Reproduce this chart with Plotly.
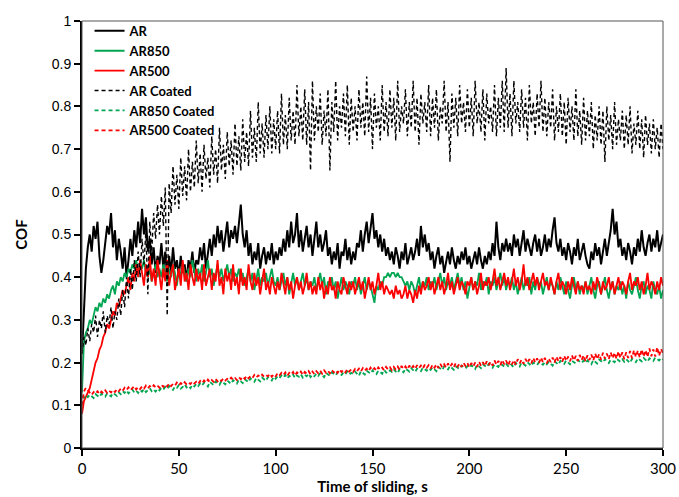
import numpy as np
import plotly.graph_objects as go

# time of sliding, s (one sample per second)
time_s = np.arange(0, 301)

ar = [
    0.22, 0.31, 0.42, 0.47, 0.50, 0.46, 0.52, 0.49, 0.53, 0.45, 0.41, 0.44, 0.48, 0.52, 0.50, 0.55, 0.47, 0.51, 0.44, 0.49,
    0.46, 0.42, 0.47, 0.40, 0.44, 0.49, 0.45, 0.51, 0.47, 0.53, 0.48, 0.56, 0.50, 0.54, 0.46, 0.49, 0.43, 0.47, 0.41, 0.45,
    0.43, 0.48, 0.42, 0.46, 0.40, 0.45, 0.41, 0.47, 0.42, 0.44, 0.40, 0.45, 0.41, 0.43, 0.39, 0.44, 0.42, 0.46, 0.41, 0.44,
    0.43, 0.47, 0.44, 0.48, 0.42, 0.46, 0.49, 0.45, 0.50, 0.47, 0.52, 0.48, 0.51, 0.46, 0.50, 0.53, 0.47, 0.51, 0.49, 0.52,
    0.48, 0.53, 0.57, 0.50, 0.47, 0.51, 0.45, 0.48, 0.43, 0.46, 0.44, 0.48, 0.42, 0.45, 0.47, 0.43, 0.46, 0.44, 0.48, 0.43,
    0.46, 0.44, 0.47, 0.45, 0.49, 0.46, 0.51, 0.47, 0.53, 0.48, 0.50, 0.55, 0.47, 0.51, 0.46, 0.49, 0.52, 0.47, 0.50, 0.45,
    0.49, 0.53, 0.47, 0.50, 0.46, 0.48, 0.51, 0.45, 0.47, 0.43, 0.46, 0.44, 0.48, 0.42, 0.46, 0.45, 0.49, 0.44, 0.47, 0.43,
    0.46, 0.44, 0.48, 0.47, 0.51, 0.46, 0.50, 0.53, 0.48, 0.52, 0.55, 0.49, 0.51, 0.47, 0.50, 0.46, 0.49, 0.45, 0.47, 0.44,
    0.46, 0.43, 0.47, 0.45, 0.42, 0.46, 0.44, 0.48, 0.43, 0.45, 0.47, 0.44, 0.46, 0.49, 0.45, 0.52, 0.47, 0.50, 0.46, 0.48,
    0.44, 0.46, 0.42, 0.45, 0.47, 0.43, 0.45, 0.41, 0.44, 0.46, 0.43, 0.47, 0.44, 0.42, 0.45, 0.43, 0.46, 0.44, 0.47, 0.43,
    0.45, 0.42, 0.44, 0.46, 0.43, 0.47, 0.44, 0.42, 0.45, 0.43, 0.46, 0.44, 0.48, 0.45, 0.53, 0.47, 0.44, 0.48, 0.46, 0.49,
    0.46, 0.48, 0.45, 0.50, 0.47, 0.49, 0.45, 0.48, 0.51, 0.46, 0.49, 0.47, 0.45, 0.48, 0.50, 0.46, 0.49, 0.45, 0.47, 0.50,
    0.46, 0.49, 0.47, 0.51, 0.54, 0.48, 0.46, 0.49, 0.45, 0.47, 0.44, 0.48, 0.46, 0.43, 0.47, 0.45, 0.49, 0.44, 0.46, 0.48,
    0.45, 0.43, 0.42, 0.46, 0.44, 0.48, 0.45, 0.47, 0.43, 0.46, 0.49, 0.45, 0.48, 0.51, 0.56, 0.50, 0.53, 0.47, 0.49, 0.45,
    0.47, 0.44, 0.48, 0.46, 0.43, 0.47, 0.45, 0.49, 0.46, 0.51, 0.47, 0.45, 0.48, 0.50, 0.46, 0.49, 0.47, 0.51, 0.46, 0.48, 0.50,
]

ar850 = [
    0.13, 0.25, 0.27, 0.28, 0.30, 0.29, 0.31, 0.33, 0.32, 0.34, 0.33, 0.35, 0.34, 0.36, 0.35, 0.37, 0.38, 0.36, 0.39, 0.38,
    0.40, 0.39, 0.41, 0.40, 0.42, 0.41, 0.43, 0.42, 0.44, 0.41, 0.43, 0.42, 0.44, 0.41, 0.40, 0.42, 0.39, 0.41, 0.43, 0.40,
    0.42, 0.40, 0.43, 0.41, 0.39, 0.42, 0.40, 0.43, 0.41, 0.38, 0.42, 0.40, 0.43, 0.41, 0.39, 0.42, 0.40, 0.44, 0.41, 0.39,
    0.42, 0.40, 0.43, 0.39, 0.41, 0.44, 0.40, 0.42, 0.38, 0.41, 0.43, 0.40, 0.42, 0.39, 0.41, 0.43, 0.40, 0.42, 0.39, 0.41,
    0.40, 0.42, 0.39, 0.41, 0.38, 0.40, 0.42, 0.39, 0.41, 0.37, 0.40, 0.42, 0.38, 0.40, 0.39, 0.41, 0.38, 0.40, 0.42, 0.39,
    0.38, 0.40, 0.37, 0.39, 0.41, 0.38, 0.40, 0.36, 0.39, 0.41, 0.38, 0.40, 0.37, 0.39, 0.41, 0.38, 0.40, 0.37, 0.39, 0.38,
    0.40, 0.37, 0.39, 0.41, 0.38, 0.40, 0.36, 0.39, 0.38, 0.40, 0.37, 0.39, 0.35, 0.38, 0.40, 0.37, 0.39, 0.38, 0.36, 0.39,
    0.38, 0.40, 0.37, 0.39, 0.36, 0.38, 0.40, 0.37, 0.39, 0.38, 0.36, 0.34, 0.38, 0.37, 0.39, 0.38, 0.40, 0.40, 0.41, 0.40,
    0.41, 0.41, 0.40, 0.41, 0.40, 0.40, 0.39, 0.38, 0.39, 0.37, 0.39, 0.38, 0.36, 0.38, 0.40, 0.37, 0.39, 0.38, 0.40, 0.37,
    0.39, 0.38, 0.40, 0.37, 0.39, 0.41, 0.38, 0.40, 0.37, 0.39, 0.38, 0.40, 0.37, 0.39, 0.41, 0.38, 0.40, 0.37, 0.39, 0.35,
    0.38, 0.40, 0.37, 0.39, 0.38, 0.41, 0.37, 0.39, 0.38, 0.40, 0.36, 0.39, 0.38, 0.40, 0.37, 0.39, 0.41, 0.38, 0.40, 0.37,
    0.39, 0.38, 0.40, 0.37, 0.39, 0.36, 0.38, 0.40, 0.37, 0.39, 0.38, 0.40, 0.36, 0.39, 0.37, 0.40, 0.38, 0.39, 0.36, 0.38,
    0.40, 0.37, 0.39, 0.38, 0.36, 0.39, 0.37, 0.40, 0.38, 0.36, 0.39, 0.37, 0.35, 0.38, 0.40, 0.37, 0.39, 0.36, 0.38, 0.37,
    0.39, 0.36, 0.38, 0.40, 0.37, 0.35, 0.38, 0.39, 0.36, 0.38, 0.40, 0.37, 0.35, 0.38, 0.39, 0.36, 0.38, 0.37, 0.39, 0.36,
    0.38, 0.35, 0.39, 0.37, 0.36, 0.38, 0.40, 0.37, 0.35, 0.38, 0.39, 0.36, 0.38, 0.37, 0.35, 0.39, 0.37, 0.36, 0.38, 0.35, 0.37,
]

ar500 = [
    0.08, 0.11, 0.12, 0.13, 0.14, 0.16, 0.18, 0.20, 0.21, 0.23, 0.24, 0.26, 0.27, 0.29, 0.28, 0.30, 0.32, 0.31, 0.34, 0.33,
    0.35, 0.37, 0.36, 0.38, 0.40, 0.37, 0.41, 0.39, 0.43, 0.40, 0.44, 0.41, 0.38, 0.43, 0.40, 0.45, 0.39, 0.42, 0.38, 0.44,
    0.40, 0.37, 0.42, 0.39, 0.44, 0.38, 0.41, 0.43, 0.37, 0.40, 0.42, 0.38, 0.44, 0.39, 0.41, 0.37, 0.43, 0.40, 0.38, 0.42,
    0.39, 0.41, 0.37, 0.43, 0.38, 0.40, 0.42, 0.37, 0.41, 0.39, 0.44, 0.38, 0.40, 0.36, 0.42, 0.39, 0.41, 0.37, 0.43, 0.38,
    0.40, 0.36, 0.42, 0.38, 0.40, 0.37, 0.43, 0.39, 0.37, 0.41, 0.38, 0.40, 0.36, 0.39, 0.42, 0.37, 0.39, 0.36, 0.40, 0.38,
    0.36, 0.39, 0.37, 0.41, 0.38, 0.36, 0.40, 0.37, 0.39, 0.35, 0.38, 0.40, 0.37, 0.39, 0.36, 0.38, 0.41, 0.37, 0.39, 0.36,
    0.38, 0.36, 0.40, 0.37, 0.39, 0.35, 0.38, 0.36, 0.40, 0.37, 0.38, 0.35, 0.39, 0.37, 0.36, 0.40, 0.38, 0.36, 0.39, 0.37,
    0.39, 0.36, 0.38, 0.40, 0.37, 0.39, 0.35, 0.38, 0.40, 0.37, 0.39, 0.36, 0.38, 0.41, 0.37, 0.39, 0.36, 0.38, 0.37, 0.36,
    0.37, 0.35, 0.38, 0.36, 0.37, 0.35, 0.36, 0.38, 0.35, 0.37, 0.36, 0.34, 0.37, 0.35, 0.38, 0.36, 0.39, 0.37, 0.38, 0.40,
    0.37, 0.39, 0.36, 0.38, 0.40, 0.37, 0.39, 0.36, 0.38, 0.41, 0.37, 0.39, 0.36, 0.38, 0.40, 0.37, 0.39, 0.38, 0.36, 0.39,
    0.38, 0.40, 0.37, 0.39, 0.36, 0.38, 0.41, 0.37, 0.39, 0.38, 0.40, 0.37, 0.39, 0.42, 0.38, 0.40, 0.37, 0.39, 0.41, 0.38,
    0.40, 0.37, 0.39, 0.42, 0.38, 0.40, 0.37, 0.39, 0.43, 0.38, 0.40, 0.37, 0.39, 0.41, 0.38, 0.40, 0.37, 0.39, 0.41, 0.38,
    0.39, 0.37, 0.40, 0.38, 0.36, 0.39, 0.41, 0.37, 0.39, 0.38, 0.36, 0.39, 0.37, 0.40, 0.38, 0.36, 0.39, 0.37, 0.38, 0.36,
    0.39, 0.37, 0.38, 0.36, 0.39, 0.37, 0.40, 0.38, 0.36, 0.39, 0.37, 0.38, 0.40, 0.37, 0.39, 0.36, 0.38, 0.40, 0.37, 0.39,
    0.38, 0.36, 0.39, 0.41, 0.37, 0.39, 0.38, 0.40, 0.37, 0.39, 0.36, 0.38, 0.41, 0.37, 0.39, 0.38, 0.36, 0.39, 0.37, 0.40, 0.38,
]

ar_coated = [
    0.22, 0.26, 0.24, 0.28, 0.25, 0.29, 0.27, 0.31, 0.26, 0.30, 0.28, 0.32, 0.27, 0.31, 0.29, 0.33, 0.28, 0.32, 0.30, 0.35,
    0.31, 0.37, 0.33, 0.40, 0.35, 0.42, 0.37, 0.44, 0.39, 0.46, 0.40, 0.49, 0.43, 0.51, 0.36, 0.53, 0.46, 0.55, 0.49, 0.57,
    0.50, 0.59, 0.52, 0.61, 0.31, 0.62, 0.55, 0.66, 0.57, 0.64, 0.56, 0.68, 0.59, 0.66, 0.58, 0.70, 0.60, 0.67, 0.61, 0.72,
    0.62, 0.69, 0.60, 0.71, 0.63, 0.68, 0.61, 0.73, 0.64, 0.70, 0.62, 0.75, 0.65, 0.71, 0.63, 0.74, 0.66, 0.72, 0.64, 0.76,
    0.66, 0.73, 0.65, 0.77, 0.67, 0.74, 0.66, 0.79, 0.68, 0.75, 0.67, 0.81, 0.69, 0.76, 0.68, 0.78, 0.70, 0.80, 0.69, 0.77,
    0.70, 0.79, 0.69, 0.83, 0.71, 0.78, 0.70, 0.82, 0.72, 0.79, 0.71, 0.85, 0.73, 0.80, 0.72, 0.84, 0.71, 0.81, 0.65, 0.86,
    0.72, 0.80, 0.74, 0.83, 0.71, 0.79, 0.73, 0.84, 0.65, 0.81, 0.74, 0.86, 0.72, 0.80, 0.75, 0.83, 0.73, 0.85, 0.71, 0.82,
    0.74, 0.80, 0.72, 0.84, 0.75, 0.81, 0.73, 0.87, 0.74, 0.82, 0.70, 0.83, 0.75, 0.80, 0.72, 0.85, 0.74, 0.81, 0.73, 0.84,
    0.75, 0.82, 0.72, 0.86, 0.74, 0.80, 0.76, 0.84, 0.73, 0.81, 0.75, 0.86, 0.74, 0.82, 0.71, 0.83, 0.76, 0.81, 0.74, 0.85,
    0.73, 0.82, 0.75, 0.84, 0.72, 0.80, 0.76, 0.86, 0.74, 0.81, 0.67, 0.83, 0.75, 0.82, 0.73, 0.85, 0.76, 0.81, 0.74, 0.84,
    0.75, 0.82, 0.73, 0.86, 0.76, 0.81, 0.74, 0.84, 0.72, 0.83, 0.76, 0.80, 0.74, 0.85, 0.73, 0.82, 0.75, 0.86, 0.74, 0.89,
    0.75, 0.83, 0.73, 0.86, 0.76, 0.81, 0.74, 0.84, 0.75, 0.82, 0.72, 0.85, 0.76, 0.81, 0.73, 0.83, 0.75, 0.86, 0.74, 0.82,
    0.73, 0.81, 0.75, 0.84, 0.72, 0.80, 0.74, 0.83, 0.73, 0.81, 0.71, 0.82, 0.74, 0.80, 0.72, 0.84, 0.73, 0.79, 0.71, 0.82,
    0.72, 0.79, 0.73, 0.81, 0.70, 0.78, 0.72, 0.80, 0.71, 0.79, 0.67, 0.80, 0.72, 0.78, 0.70, 0.81, 0.71, 0.77, 0.72, 0.79,
    0.70, 0.78, 0.71, 0.80, 0.69, 0.76, 0.71, 0.79, 0.70, 0.77, 0.68, 0.78, 0.71, 0.76, 0.69, 0.77, 0.70, 0.75, 0.68, 0.76, 0.70,
]

ar850_coated = [
    0.122, 0.118, 0.124, 0.119, 0.125, 0.121, 0.117, 0.126, 0.122, 0.119, 0.127, 0.123, 0.120, 0.128, 0.124, 0.121, 0.129, 0.125, 0.122, 0.130,
    0.126, 0.133, 0.129, 0.135, 0.128, 0.132, 0.137, 0.130, 0.134, 0.129, 0.136, 0.132, 0.138, 0.131, 0.135, 0.140, 0.133, 0.137, 0.132, 0.139,
    0.135, 0.141, 0.137, 0.143, 0.138, 0.145, 0.140, 0.136, 0.144, 0.141, 0.147, 0.139, 0.143, 0.149, 0.142, 0.146, 0.140, 0.148, 0.144, 0.150,
    0.145, 0.151, 0.146, 0.153, 0.149, 0.144, 0.155, 0.150, 0.147, 0.156, 0.151, 0.148, 0.157, 0.152, 0.149, 0.158, 0.153, 0.150, 0.159, 0.154,
    0.151, 0.160, 0.155, 0.152, 0.161, 0.157, 0.154, 0.163, 0.158, 0.155, 0.164, 0.159, 0.156, 0.165, 0.160, 0.157, 0.166, 0.161, 0.158, 0.167,
    0.162, 0.168, 0.164, 0.170, 0.165, 0.171, 0.163, 0.169, 0.166, 0.172, 0.164, 0.170, 0.167, 0.173, 0.165, 0.171, 0.168, 0.174, 0.166, 0.172,
    0.168, 0.174, 0.169, 0.175, 0.171, 0.166, 0.176, 0.172, 0.169, 0.177, 0.173, 0.170, 0.178, 0.174, 0.171, 0.177, 0.173, 0.179, 0.172, 0.176,
    0.173, 0.179, 0.174, 0.169, 0.180, 0.176, 0.172, 0.181, 0.177, 0.174, 0.182, 0.176, 0.173, 0.181, 0.178, 0.174, 0.183, 0.177, 0.175, 0.182,
    0.178, 0.184, 0.179, 0.175, 0.185, 0.181, 0.177, 0.186, 0.182, 0.179, 0.187, 0.183, 0.178, 0.186, 0.182, 0.180, 0.188, 0.184, 0.181, 0.187,
    0.183, 0.189, 0.184, 0.180, 0.190, 0.186, 0.182, 0.191, 0.187, 0.184, 0.192, 0.188, 0.183, 0.191, 0.187, 0.185, 0.193, 0.189, 0.186, 0.192,
    0.188, 0.194, 0.189, 0.185, 0.195, 0.191, 0.187, 0.196, 0.192, 0.189, 0.197, 0.193, 0.188, 0.196, 0.192, 0.190, 0.198, 0.194, 0.191, 0.197,
    0.192, 0.198, 0.193, 0.189, 0.199, 0.195, 0.191, 0.200, 0.196, 0.193, 0.201, 0.197, 0.192, 0.200, 0.196, 0.194, 0.202, 0.198, 0.195, 0.201,
    0.196, 0.202, 0.197, 0.193, 0.203, 0.199, 0.195, 0.204, 0.200, 0.197, 0.205, 0.201, 0.196, 0.204, 0.200, 0.198, 0.206, 0.202, 0.199, 0.205,
    0.199, 0.205, 0.200, 0.196, 0.206, 0.202, 0.198, 0.207, 0.203, 0.200, 0.208, 0.204, 0.199, 0.207, 0.203, 0.201, 0.209, 0.205, 0.202, 0.208,
    0.202, 0.208, 0.203, 0.199, 0.209, 0.205, 0.201, 0.210, 0.206, 0.203, 0.211, 0.207, 0.202, 0.210, 0.206, 0.204, 0.212, 0.208, 0.205, 0.211, 0.207,
]

ar500_coated = [
    0.100, 0.132, 0.141, 0.136, 0.129, 0.124, 0.131, 0.127, 0.133, 0.126, 0.132, 0.128, 0.135, 0.129, 0.134, 0.130, 0.136, 0.131, 0.138, 0.133,
    0.139, 0.134, 0.141, 0.136, 0.142, 0.135, 0.140, 0.145, 0.137, 0.143, 0.138, 0.144, 0.139, 0.146, 0.140, 0.145, 0.141, 0.147, 0.142, 0.146,
    0.141, 0.148, 0.143, 0.149, 0.144, 0.151, 0.145, 0.150, 0.146, 0.153, 0.147, 0.152, 0.148, 0.154, 0.149, 0.153, 0.150, 0.156, 0.151, 0.155,
    0.150, 0.157, 0.152, 0.158, 0.153, 0.160, 0.154, 0.159, 0.155, 0.162, 0.156, 0.161, 0.157, 0.163, 0.158, 0.162, 0.159, 0.165, 0.160, 0.164,
    0.159, 0.166, 0.161, 0.167, 0.162, 0.169, 0.163, 0.168, 0.164, 0.171, 0.165, 0.170, 0.166, 0.172, 0.167, 0.171, 0.168, 0.174, 0.167, 0.173,
    0.168, 0.175, 0.170, 0.176, 0.171, 0.177, 0.169, 0.176, 0.172, 0.178, 0.170, 0.177, 0.173, 0.179, 0.171, 0.178, 0.174, 0.180, 0.172, 0.179,
    0.173, 0.180, 0.175, 0.181, 0.174, 0.182, 0.176, 0.181, 0.175, 0.183, 0.177, 0.182, 0.176, 0.184, 0.178, 0.183, 0.177, 0.185, 0.179, 0.184,
    0.178, 0.185, 0.180, 0.186, 0.179, 0.187, 0.181, 0.186, 0.180, 0.188, 0.182, 0.187, 0.181, 0.189, 0.183, 0.188, 0.182, 0.190, 0.184, 0.189,
    0.182, 0.190, 0.184, 0.191, 0.183, 0.192, 0.185, 0.191, 0.184, 0.193, 0.186, 0.192, 0.185, 0.194, 0.187, 0.193, 0.186, 0.195, 0.188, 0.194,
    0.186, 0.195, 0.188, 0.196, 0.187, 0.197, 0.189, 0.196, 0.188, 0.198, 0.190, 0.197, 0.189, 0.199, 0.191, 0.198, 0.190, 0.200, 0.192, 0.199,
    0.189, 0.199, 0.191, 0.200, 0.190, 0.202, 0.193, 0.201, 0.192, 0.203, 0.194, 0.202, 0.193, 0.205, 0.195, 0.204, 0.194, 0.206, 0.196, 0.205,
    0.193, 0.204, 0.196, 0.206, 0.195, 0.208, 0.198, 0.207, 0.197, 0.209, 0.199, 0.208, 0.198, 0.211, 0.200, 0.210, 0.199, 0.212, 0.201, 0.211,
    0.198, 0.210, 0.201, 0.212, 0.200, 0.214, 0.203, 0.213, 0.202, 0.216, 0.204, 0.214, 0.203, 0.217, 0.205, 0.216, 0.204, 0.218, 0.206, 0.217,
    0.203, 0.217, 0.206, 0.219, 0.205, 0.221, 0.208, 0.220, 0.207, 0.223, 0.209, 0.221, 0.208, 0.224, 0.210, 0.223, 0.209, 0.226, 0.211, 0.224,
    0.208, 0.224, 0.211, 0.227, 0.210, 0.229, 0.213, 0.228, 0.212, 0.231, 0.214, 0.229, 0.213, 0.233, 0.215, 0.231, 0.214, 0.236, 0.216, 0.232, 0.222,
]

GREEN = '#00A651'
RED = '#FF0000'
DASH = '4px,3px'

series = [
    ('AR', ar, 'black', 'solid', 2.0),
    ('AR850', ar850, GREEN, 'solid', 1.8),
    ('AR500', ar500, RED, 'solid', 1.8),
    ('AR Coated', ar_coated, 'black', DASH, 1.4),
    ('AR850 Coated', ar850_coated, GREEN, DASH, 1.8),
    ('AR500 Coated', ar500_coated, RED, DASH, 1.8),
]

fig = go.Figure()
for name, vals, color, dash, width in series:
    assert len(vals) == len(time_s), (name, len(vals))
    fig.add_trace(go.Scatter(
        x=time_s, y=vals, mode='lines', name=name,
        line=dict(color=color, dash=dash, width=width),
    ))

# thin grey frame on top and right, like the original
fig.add_shape(type='rect', xref='paper', yref='paper', x0=0, y0=0, x1=1, y1=1,
              line=dict(color='#555555', width=1))

fig.update_layout(
    width=679, height=497,
    margin=dict(l=82, r=16, t=21, b=49, autoexpand=False),
    paper_bgcolor='white', plot_bgcolor='white',
    showlegend=True,
    legend=dict(x=0.013, y=1.012, xanchor='left', yanchor='top',
                bgcolor='rgba(0,0,0,0)', tracegroupgap=0,
                font=dict(family='Lato', size=13, color='black', weight='bold')),
)
fig.update_xaxes(
    range=[0, 300], tickvals=[0, 50, 100, 150, 200, 250, 300],
    showgrid=False, zeroline=False, automargin=False,
    showline=True, linecolor='black', linewidth=2,
    ticks='outside', ticklen=6, tickwidth=1.5, tickcolor='black',
    tickfont=dict(family='Lato', size=15, color='black'),
    title=dict(text='<b>Time of sliding, s</b>', standoff=3,
               font=dict(family='Lato', size=15, color='black')),
)
fig.update_yaxes(
    range=[0, 1], dtick=0.1, tick0=0,
    showgrid=False, zeroline=False, automargin=False,
    showline=True, linecolor='black', linewidth=2,
    ticks='outside', ticklen=6, tickwidth=1.5, tickcolor='black',
    tickfont=dict(family='Liberation Sans', size=14, color='black'),
    title=dict(text='<b>COF</b>', standoff=20,
               font=dict(family='Lato', size=15, color='black')),
)

# the page's default body margin would shift the figure by 8 px
fig.write_html('out.html', config={'displayModeBar': False},
               post_script="document.body.style.margin='0';")
